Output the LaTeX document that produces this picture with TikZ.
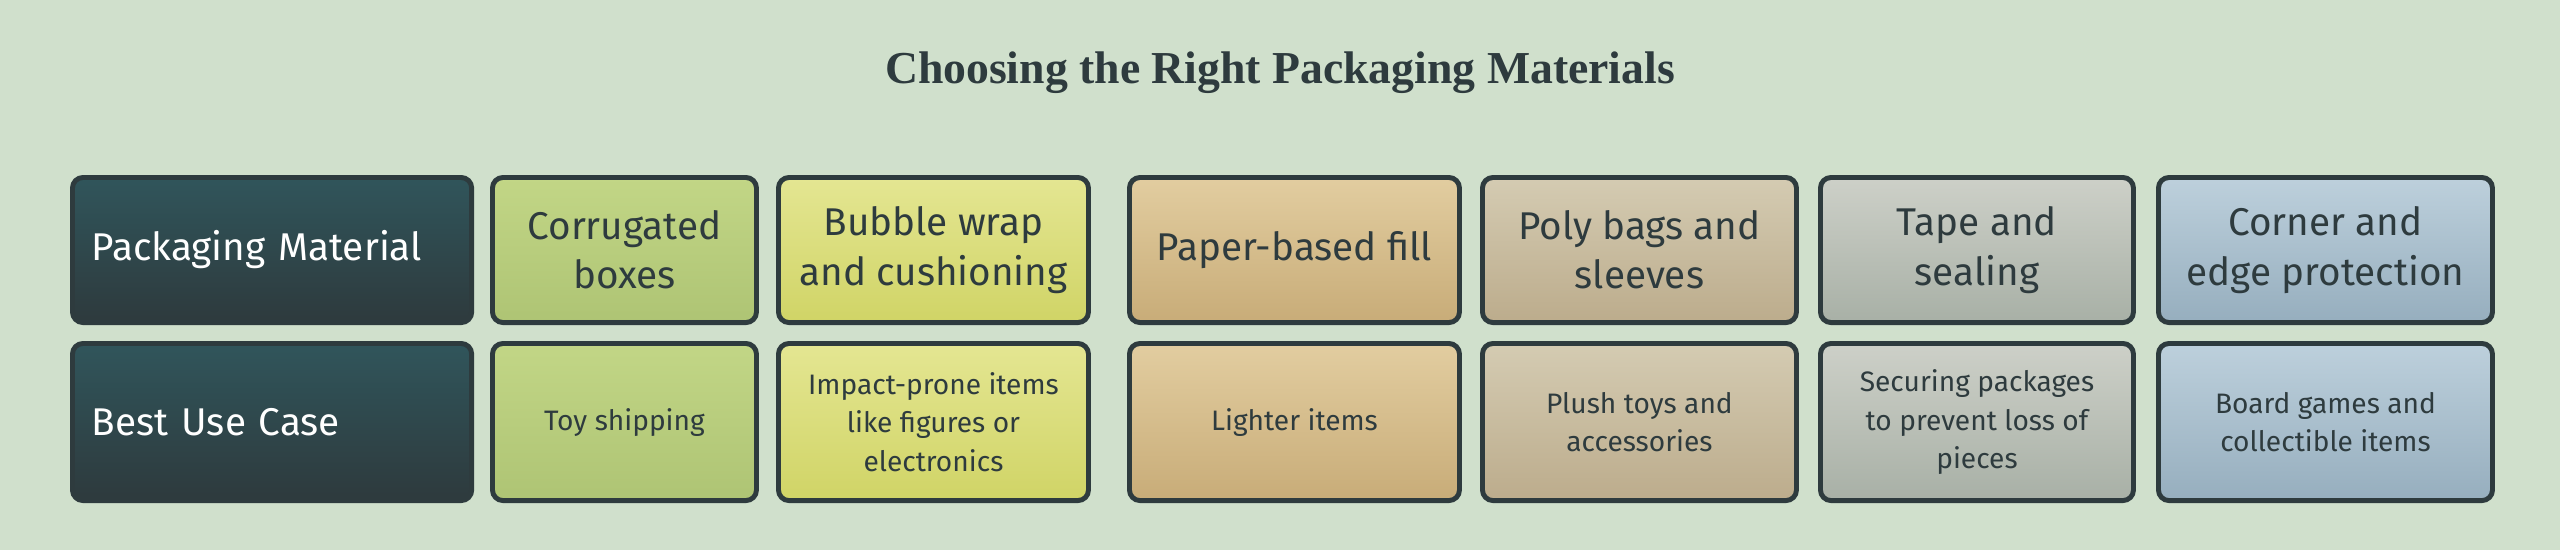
\documentclass[tikz,border=0pt]{standalone}
\usepackage{fontspec}
\setmainfont{Fira Sans}
\newfontfamily\titlefont{Liberation Serif}
\definecolor{bgc}{HTML}{D0E0CC}
\definecolor{edge}{HTML}{2E3B3E}
\definecolor{darkT}{HTML}{30555B}\definecolor{darkB}{HTML}{2E3A3D}
\definecolor{grnT}{HTML}{C2D686}\definecolor{grnB}{HTML}{AEC474}
\definecolor{yelT}{HTML}{E4E692}\definecolor{yelB}{HTML}{D0D466}
\definecolor{tanT}{HTML}{E2CDA0}\definecolor{tanB}{HTML}{C8AC78}
\definecolor{tapT}{HTML}{D4CBB2}\definecolor{tapB}{HTML}{BCAC8C}
\definecolor{gryT}{HTML}{CDD0C8}\definecolor{gryB}{HTML}{A8B0A6}
\definecolor{bluT}{HTML}{BDD0DC}\definecolor{bluB}{HTML}{96AEBE}
\tikzset{
  cell/.style={draw=edge, line width=1.4pt, rounded corners=3pt, top color=#1T, bottom color=#1B,
    text=edge, align=center, anchor=north west, inner sep=0pt},
  head/.style={font=\fontsize{11}{14}\selectfont},
  body/.style={font=\fontsize{8}{11}\selectfont},
}
\begin{document}
\begin{tikzpicture}[x=0.01cm, y=-0.01cm]
    \useasboundingbox[fill=bgc] (0,0) rectangle (2560,550);
    \node[font=\titlefont\bfseries\fontsize{13}{15}\selectfont, text=edge] (title) at (1280,73) {Choosing the Right Packaging Materials};

    % Row labels
    \node[cell=dark, head, text=white, minimum width=3.99cm, minimum height=1.45cm, text width=3.6cm, align=left] (mat) at (70,175) {Packaging Material};
    \node[cell=dark, head, text=white, minimum width=3.99cm, minimum height=1.57cm, text width=3.6cm, align=left] (use) at (70,341) {Best Use Case};

    % Columns
    \foreach \n/\xa/\xb/\c/\h/\b in {
        box/490/754/grn/{Corrugated\\boxes}/{Toy shipping},
        bub/776/1086/yel/{Bubble wrap\\and cushioning}/{Impact-prone items\\like figures or\\electronics},
        pap/1127/1457/tan/{Paper-based fill}/{Lighter items},
        pol/1480/1794/tap/{Poly bags and\\sleeves}/{Plush toys and\\accessories},
        tap/1818/2131/gry/{Tape and\\sealing}/{Securing packages\\to prevent loss of\\pieces},
        cor/2156/2490/blu/{Corner and\\edge protection}/{Board games and\\collectible items}} {
        \node[cell=\c, head, minimum width={(\xb-\xa)*0.01cm}, minimum height=1.45cm] (\n-h) at (\xa,175) {\h};
        \node[cell=\c, body, minimum width={(\xb-\xa)*0.01cm}, minimum height=1.57cm] (\n-b) at (\xa,341) {\b};
    }
\end{tikzpicture}
\end{document}
